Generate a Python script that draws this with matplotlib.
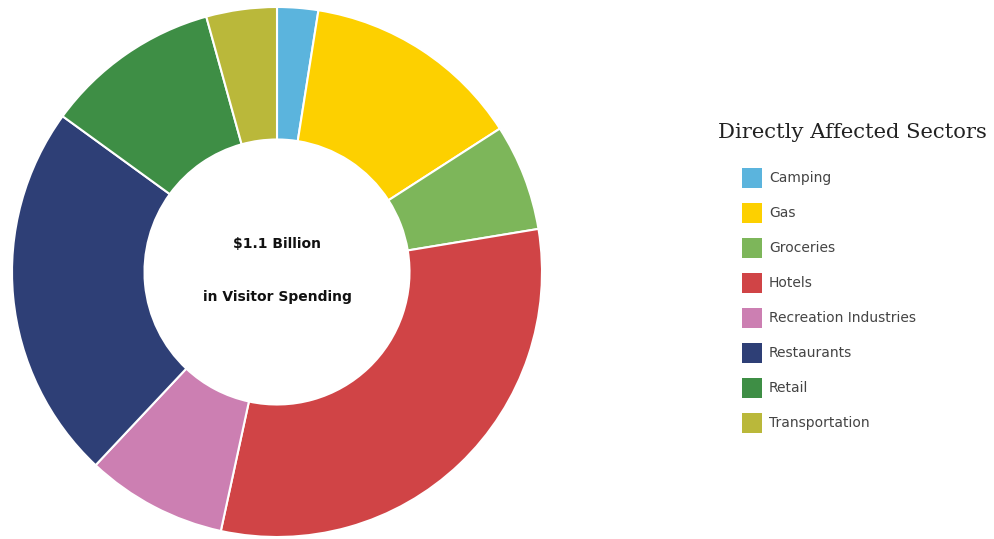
import matplotlib
matplotlib.use("Agg")
import matplotlib.pyplot as plt
from matplotlib.patches import Rectangle

categories = ["Camping", "Gas", "Groceries", "Hotels", "Recreation Industries",
              "Restaurants", "Retail", "Transportation"]
shares = [2.5, 13.4, 6.5, 31.0, 8.6, 23.0, 10.7, 4.3]
colors = ["#5BB4DD", "#FDD000", "#7DB65A", "#D04446", "#CC7FB2",
          "#2E3F76", "#3E8E45", "#BAB83A"]
center_lines = ["$1.1 Billion", "in Visitor Spending"]
legend_title = "Directly Affected Sectors"

W, H = 995, 539
fig = plt.figure(figsize=(W / 100, H / 100), dpi=100)
fig.patch.set_facecolor("white")

cx, cy, r = 277, 272, 265
ax = fig.add_axes([(cx - r) / W, (H - cy - r) / H, 2 * r / W, 2 * r / H])
ax.pie(shares, colors=colors, startangle=90, counterclock=False, radius=1.0,
       wedgeprops=dict(width=0.5, edgecolor="white", linewidth=1.5))
ax.set_xlim(-1, 1)
ax.set_ylim(-1, 1)
ax.set_aspect("equal")
ax.axis("off")

ax.text(0, 0.105, center_lines[0].replace("$", r"\$"), ha="center", va="center",
        fontsize=10, fontweight="bold", color="#111111")
ax.text(0, -0.095, center_lines[1], ha="center", va="center",
        fontsize=10, fontweight="bold", color="#111111")

# legend
fig.text(718 / W, 1 - 133 / H, legend_title, ha="left", va="center",
         fontsize=15.2, family="DejaVu Serif", color="#222222")
for i, (lab, col) in enumerate(zip(categories, colors)):
    yc = 178 + 35 * i
    fig.patches.append(Rectangle((742 / W, 1 - (yc + 10) / H), 20 / W, 20 / H,
                                 transform=fig.transFigure, facecolor=col,
                                 edgecolor="none"))
    fig.text(769 / W, 1 - yc / H, lab, ha="left", va="center",
             fontsize=10, color="#444444")

fig.savefig("out.png", dpi=100, facecolor="white")
